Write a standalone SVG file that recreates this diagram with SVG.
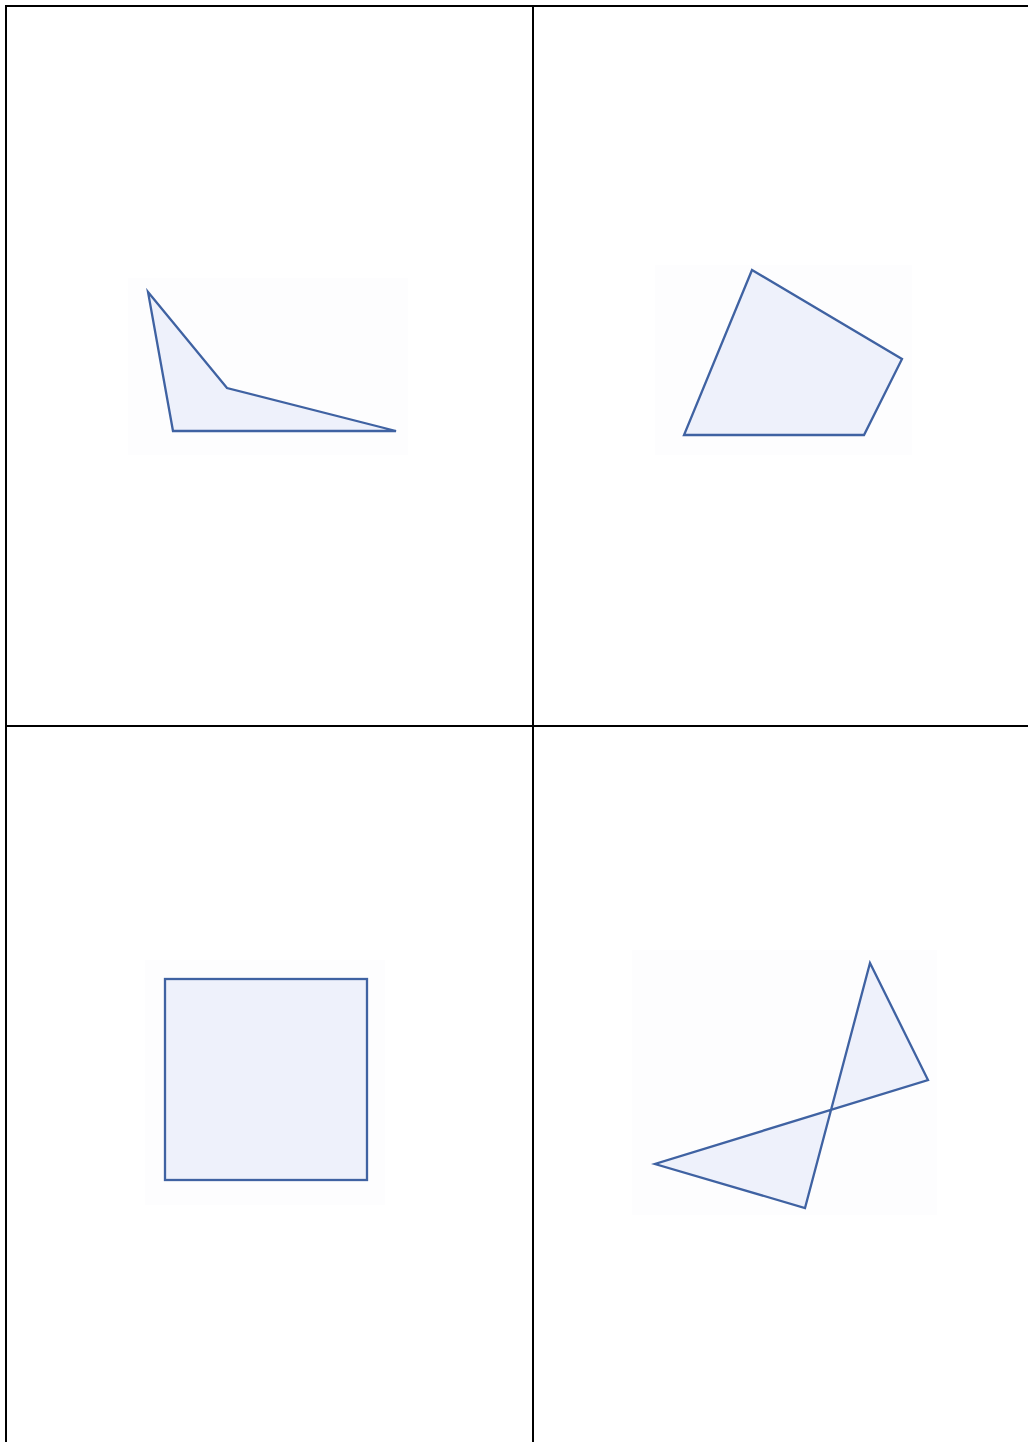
<svg xmlns="http://www.w3.org/2000/svg" width="1028" height="1442" viewBox="0 0 1028 1442">
<style>
.grid{stroke:#000;stroke-width:2;fill:none}
.bg{fill:#fdfdfe}
.shape{fill:#eef1fb;stroke:#3f62a2;stroke-width:2.3;stroke-linejoin:miter}
</style>
<rect width="1028" height="1442" fill="#fff"/>
<g id="grid">
<path class="grid" d="M6,1442 V6 H1028 M533,6 V1442 M6,726 H1028"/>
</g>
<g id="shape1">
<rect class="bg" x="128" y="278" width="280" height="177"/>
<polygon class="shape" points="148,292 227,388 396,431 173,431"/>
</g>
<g id="shape2">
<rect class="bg" x="655" y="265" width="257" height="190"/>
<polygon class="shape" points="752,270 902,359 864,435 684,435"/>
</g>
<g id="shape3">
<rect class="bg" x="145" y="960" width="240" height="245"/>
<rect class="shape" x="165" y="979" width="202" height="201"/>
</g>
<g id="shape4">
<rect class="bg" x="632" y="950" width="305" height="265"/>
<polygon class="shape" points="870,963 928,1080 655,1164 805,1208"/>
</g>
</svg>
